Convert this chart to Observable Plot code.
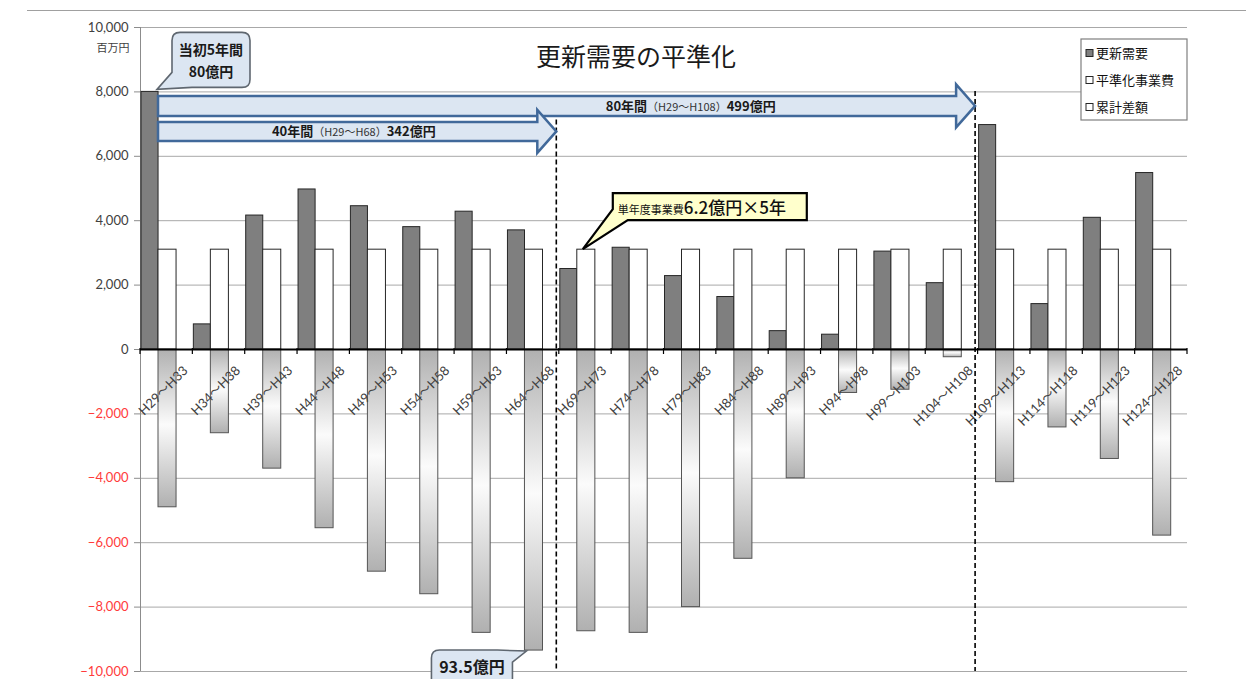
<!DOCTYPE html>
<html><head><meta charset="utf-8">
<script src="https://cdn.jsdelivr.net/npm/d3@7"></script>
<script src="https://cdn.jsdelivr.net/npm/@observablehq/plot@0.6"></script>
<style>
body{margin:0;background:#fff;}
#chart{position:relative;width:1246px;height:679px;overflow:hidden;}
</style></head><body><div id="chart"></div>
<script>
// ---- data ----
const categories = ["H29～H33","H34～H38","H39～H43","H44～H48","H49～H53","H54～H58","H59～H63","H64～H68","H69～H73","H74～H78","H79～H83","H84～H88","H89～H93","H94～H98","H99～H103","H104～H108","H109～H113","H114～H118","H119～H123","H124～H128"];
const renewalDemand = [8000,780,4160,4970,4450,3800,4280,3700,2500,3160,2280,1630,570,460,3040,2060,6970,1410,4090,5480];
const leveledCost = [3100,3100,3100,3100,3100,3100,3100,3100,3100,3100,3100,3100,3100,3100,3100,3100,3100,3100,3100,3100];
const cumulativeDiff = [-4900,-2600,-3700,-5550,-6900,-7600,-8800,-9350,-8750,-8800,-8000,-6500,-4000,-1350,-1250,-240,-4120,-2420,-3400,-5780];
const yTicks = [-10000,-8000,-6000,-4000,-2000,0,2000,4000,6000,8000,10000];
const seriesNames = ["更新需要","平準化事業費","累計差額"];
const titleText = "更新需要の平準化";
const unitText = "百万円";
const callout1 = ["当初5年間","80億円"];
const arrow80 = ["80年間","（H29～H108）","499億円"];
const arrow40 = ["40年間","（H29～H68）","342億円"];
const callout3 = ["単年度事業費","6.2億円×5年"];
const callout4 = "93.5億円";

const rows = categories.map((c,i)=>({c, renewal: renewalDemand[i], leveled: leveledCost[i], diff: cumulativeDiff[i]}));

const JP = "'Noto Sans CJK JP', 'Noto Sans', sans-serif";
const LAT = "Lato, 'Noto Sans CJK JP', sans-serif";

function geom(scales){
  const xs = scales.x;
  const bw = xs.bandwidth ? xs.bandwidth() : (xs(categories[1]) - xs(categories[0]));
  const start = i => i < categories.length ? xs(categories[i]) : xs(categories[categories.length-1]) + bw;
  return {bw, start, y: scales.y};
}

const defsMark = () => {
  const g = d3.create("svg:defs");
  const lg = g.append("linearGradient").attr("id","negGrad").attr("x1",0).attr("y1",0).attr("x2",0).attr("y2",1);
  lg.append("stop").attr("offset","0%").attr("stop-color","#b0b0b0");
  lg.append("stop").attr("offset","48%").attr("stop-color","#fbfbfb");
  lg.append("stop").attr("offset","100%").attr("stop-color","#b0b0b0");
  return g.node();
};

const frameLines = (index, scales, values, dim) => {
  const {y} = geom(scales);
  const g = d3.create("svg:g");
  g.append("line").attr("x1",27).attr("x2",dim.width).attr("y1",10.5).attr("y2",10.5).attr("stroke","#a0a0a0").attr("stroke-width",1);
  g.append("line").attr("x1",dim.marginLeft+0.5).attr("x2",dim.marginLeft+0.5).attr("y1",y(10000)).attr("y2",y(-10000)).attr("stroke","#8c8c8c");
  return g.node();
};

const zeroTicks = (index, scales) => {
  const {start, y} = geom(scales);
  const g = d3.create("svg:g").attr("stroke","#000").attr("stroke-width",1.2);
  const y0 = y(0);
  for (let i = 0; i <= categories.length; i++) {
    const x = start(i);
    g.append("line").attr("x1",x).attr("x2",x).attr("y1",y0-1).attr("y2",y0+5);
  }
  return g.node();
};

const annotations = (index, scales) => {
  const {start, y} = geom(scales);
  const g = d3.create("svg:g").attr("text-anchor","start");
  const x0 = start(0) + 18;
  const tip40 = start(8) - 2.5, tip80 = start(16) - 2.5;
  const cy80 = y(8000) + 14.5, cy40 = y(8000) + 40;
  [[tip40, cy40 - 12],[tip80, cy80 - 15]].forEach(([x, top]) => {
    g.append("line").attr("x1",x).attr("x2",x).attr("y1",top).attr("y2",y(-10000))
      .attr("stroke","#000").attr("stroke-width",1.6).attr("stroke-dasharray","5,3");
  });
  function arrow(xt, cy, hb, hh, hl){
    const xb = xt - hl;
    const d = `M${x0},${cy-hb}L${xb},${cy-hb}L${xb},${cy-hh}L${xt},${cy}L${xb},${cy+hh}L${xb},${cy+hb}L${x0},${cy+hb}Z`;
    g.append("path").attr("d",d).attr("fill","#dce6f2").attr("stroke","#41699a").attr("stroke-width",2.5);
  }
  function arrowText(parts, x, cy){
    const t = g.append("text").attr("x",x).attr("y",cy+5).attr("text-anchor","start").attr("font-family",JP).attr("fill","#1a1a1a");
    t.append("tspan").attr("font-size",13).attr("font-weight","bold").text(parts[0]);
    t.append("tspan").attr("font-size",11).attr("fill","#333").text(parts[1]);
    t.append("tspan").attr("font-size",13).attr("font-weight","bold").text(parts[2]);
  }
  arrow(tip80, cy80, 10, 21.5, 19);
  arrowText(arrow80, x0 + 0.548*(tip80 - x0), cy80);
  arrow(tip40, cy40, 9.5, 21.5, 19);
  arrowText(arrow40, x0 + 0.286*(tip40 - x0), cy40);

  // callout 1
  const t1x = start(0) + 18 - 1, t1y = y(renewalDemand[0]) - 2;
  const bx = t1x + 15, bx2 = bx + 78, by = t1y - 57, by2 = t1y - 2, r = 8;
  g.append("path").attr("d",
    `M${bx+r},${by}H${bx2-r}Q${bx2},${by} ${bx2},${by+r}V${by2-r}Q${bx2},${by2} ${bx2-r},${by2}H${bx+20}L${t1x},${t1y}L${bx},${by2-15}V${by+r}Q${bx},${by} ${bx+r},${by}Z`)
    .attr("fill","#dce6f2").attr("stroke","#5f6770").attr("stroke-width",1.6);
  callout1.forEach((s,i) => g.append("text").attr("x",(bx+bx2)/2).attr("y",by+23+i*22).attr("text-anchor","middle")
    .attr("font-family",JP).attr("font-weight","bold").attr("font-size",14).attr("fill","#1a1a1a").text(s));

  // callout 3
  const t3x = start(8) + 18 + 6, t3y = y(leveledCost[8]);
  const cx1 = t3x + 30, cx2 = cx1 + 194, cy1 = t3y - 56, cy2 = t3y - 29;
  g.append("path").attr("d",
    `M${cx1},${cy1}H${cx2}V${cy2}H${cx1+15}L${t3x},${t3y}L${cx1},${cy2-11}Z`)
    .attr("fill","#ffffcc").attr("stroke","#000").attr("stroke-width",2.2);
  const t3 = g.append("text").attr("x",cx1+5).attr("y",cy2-6).attr("text-anchor","start").attr("font-family",JP).attr("fill","#111");
  t3.append("tspan").attr("font-size",11).text(callout3[0]);
  t3.append("tspan").attr("font-size",17).attr("font-weight",500).text(callout3[1]);

  // callout 4
  const t4x = start(7) + 18 + 2, t4y = y(cumulativeDiff[7]) + 1;
  const dx1 = t4x - 95, dx2 = t4x - 14, dy1 = t4y - 1, dy2 = dy1 + 60;
  g.append("path").attr("d",
    `M${dx1+r},${dy1}H${dx2-15}L${t4x},${t4y}L${dx2},${dy1+12}V${dy2}H${dx1}V${dy1+r}Q${dx1},${dy1} ${dx1+r},${dy1}Z`)
    .attr("fill","#dce6f2").attr("stroke","#5f6770").attr("stroke-width",1.6);
  g.append("text").attr("x",(dx1+dx2)/2).attr("y",dy1+23).attr("text-anchor","middle")
    .attr("font-family",JP).attr("font-weight","bold").attr("font-size",16).attr("fill","#1a1a1a").text(callout4);
  return g.node();
};

const legendMark = (index, scales, values, dim) => {
  const g = d3.create("svg:g").attr("text-anchor","start");
  const x2 = dim.width - dim.marginRight, x1 = x2 - 106, y1 = 39, y2 = 120;
  g.append("rect").attr("x",x1).attr("y",y1).attr("width",x2-x1).attr("height",y2-y1).attr("fill","#fff").attr("stroke","#7f7f7f").attr("stroke-width",1.2);
  const fills = ["#7f7f7f","#fff","#fff"];
  seriesNames.forEach((s,i) => {
    const cy = y1 + 14 + i*27;
    g.append("rect").attr("x",x1+5).attr("y",cy-3.5).attr("width",7).attr("height",7).attr("fill",fills[i]).attr("stroke","#262626").attr("stroke-width",1);
    g.append("text").attr("x",x1+15).attr("y",cy+5).attr("text-anchor","start").attr("font-family",JP).attr("font-size",13).attr("fill","#111").text(s);
  });
  return g.node();
};

const plot = Plot.plot({
  width: 1246, height: 679,
  marginLeft: 140, marginRight: 59, marginTop: 27, marginBottom: 8,
  style: {fontFamily: LAT, fontSize: "13px", background: "#fff", overflow: "visible"},
  x: {type: "band", domain: categories, padding: 0, round: false, axis: null},
  y: {domain: [-10000, 10000], axis: null},
  marks: [
    defsMark,
    Plot.gridY(yTicks, {stroke: "#a8a8a8", strokeOpacity: 1, strokeWidth: 1}),
    frameLines,
    Plot.axisY(yTicks.filter(d => d >= 0), {tickFormat: d3.format(","), tickSize: 6, tickPadding: 6, stroke: "#8c8c8c", fill: "#404040", fontSize: 13, fontFamily: LAT, label: null}),
    Plot.axisY(yTicks.filter(d => d < 0), {tickFormat: d3.format(","), tickSize: 6, tickPadding: 6, stroke: "#8c8c8c", fill: "#ff3b3b", fontSize: 13, fontFamily: LAT, label: null}),
    Plot.barY(rows, {x: "c", y: "diff", fill: "url(#negGrad)", stroke: "#555", strokeWidth: 1, insetLeft: 18, insetRight: 16.3}),
    Plot.barY(rows, {x: "c", y: "renewal", fill: "#7f7f7f", stroke: "#262626", strokeWidth: 1, insetLeft: 1, insetRight: 34.3}),
    Plot.barY(rows, {x: "c", y: "leveled", fill: "#fff", stroke: "#262626", strokeWidth: 1, insetLeft: 18, insetRight: 16.3}),
    Plot.ruleY([0], {stroke: "#000", strokeWidth: 2}),
    zeroTicks,
    Plot.text(categories, {x: d => d, y: d => 0, text: d => d, rotate: -45, textAnchor: "end", lineAnchor: "middle", dx: 19, dy: 19, fontSize: 13, fontFamily: LAT, fill: "#404040"}),
    annotations,
    legendMark,
    Plot.text([titleText], {frameAnchor: "top", text: d => d, dx: -28, dy: 30, lineAnchor: "middle", fontSize: 25, fontFamily: JP, fill: "#1a1a1a"}),
    Plot.text([unitText], {frameAnchor: "top-left", text: d => d, dx: -11, dy: 21, textAnchor: "end", lineAnchor: "middle", fontSize: 11, fontFamily: JP, fill: "#404040"})
  ]
});
document.getElementById("chart").appendChild(plot);
</script>
</body></html>
